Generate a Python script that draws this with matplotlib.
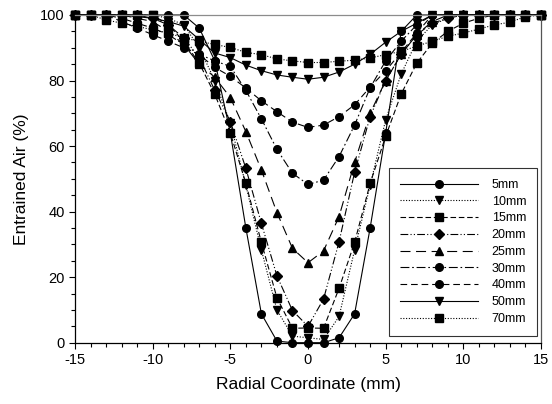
import matplotlib
matplotlib.use("Agg")
import matplotlib.pyplot as plt
from matplotlib.ticker import MultipleLocator

plt.rcParams['font.family'] = ['Liberation Sans', 'DejaVu Sans']
plt.rcParams['axes.unicode_minus'] = False

# radial positions (mm)
r = list(range(-15, 16))

# entrained air (%) for each depth
air_5 = [100, 100, 100, 100, 100, 100, 100, 100, 96, 86, 64, 35, 8.8, 0.5, 0, 0,
         0, 1.5, 8.8, 35, 64, 95, 100, 100, 100, 100, 100, 100, 100, 100, 100]
air_10 = [100, 100, 100, 100, 100, 100, 99, 97, 90, 80, 67, 48, 28.3, 10, 2, 1.5,
          1, 8, 28.3, 48, 68, 82, 92, 97, 99, 100, 100, 100, 100, 100, 100]
air_15 = [100, 100, 100, 100, 100, 100, 97, 92, 85.3, 75.8, 64, 48.6, 30.6, 13.7, 4.4, 4.5,
          4.4, 16.6, 30.6, 48.6, 63, 75.9, 85.3, 91.4, 95, 97.5, 99, 100, 100, 100, 100]
air_20 = [100, 100, 100, 100, 100, 99, 97, 93, 87, 77, 67.5, 53.2, 36.4, 20.4, 9.8, 5,
          13.3, 30.8, 52, 69, 80, 88, 94, 97.5, 99, 100, 100, 100, 100, 100, 100]
air_25 = [100, 100, 100, 100, 99, 98, 95, 91, 85, 81, 74.8, 64.4, 52.7, 39.7, 28.8, 24.4,
          28, 38.5, 55, 70, 80, 88, 94, 98, 100, 100, 100, 100, 100, 100, 100]
air_30 = [100, 100, 100, 99, 97.5, 96, 94, 91, 88, 86, 84.3, 77, 68.3, 59, 51.7, 48.3,
          49.6, 56.8, 66.4, 77.8, 86, 92, 97, 100, 100, 100, 100, 100, 100, 100, 100]
air_40 = [100, 100, 100, 98, 96, 94, 92, 90, 87.9, 84, 81.3, 77.7, 73.8, 70.5, 67.3, 65.7,
          66.4, 69, 72.6, 78, 83, 88.6, 94.5, 100, 100, 100, 100, 100, 100, 100, 100]
air_50 = [100, 100, 100, 100, 99.5, 99, 98, 96.6, 92.5, 88.4, 87, 84.7, 83, 81.7, 81, 80.4,
          81, 82.6, 85, 88, 91.7, 95, 97.5, 100, 100, 100, 100, 100, 100, 100, 100]
air_70 = [100, 100, 98.5, 97.5, 96.5, 95.5, 94.5, 93, 92, 91, 90.1, 88.6, 87.9, 86.6, 86, 85.5,
          85.5, 85.9, 86.2, 86.9, 87.9, 88.9, 90.5, 92, 93.5, 94.5, 95.7, 97, 97.8, 99.5, 100]

labels = ['5mm', '10mm', '15mm', '20mm', '25mm', '30mm', '40mm', '50mm', '70mm']
series = [air_5, air_10, air_15, air_20, air_25, air_30, air_40, air_50, air_70]
markers = ['o', 'v', 's', 'D', '^', 'o', 'o', 'v', 's']
dashes = [(None, None), (1, 1.5), (5, 2.5), (7, 2, 1, 2, 1, 2), (9, 5),
          (8, 2.5, 1.5, 2.5), (6, 3.5), (None, None), (1, 1.5)]

fig = plt.figure(figsize=(5.52, 4.04), dpi=100)
ax = fig.add_axes([75 / 552, 1 - 342.7 / 404, 466 / 552, 327.7 / 404])

for y, lab, m, d in zip(series, labels, markers, dashes):
    ms = 4.8 if m == 'D' else 5.5
    line, = ax.plot(r, y, color='black', lw=0.8, marker=m, ms=ms,
                    markerfacecolor='black', markeredgecolor='black',
                    label=lab, clip_on=False)
    if d[0] is not None:
        line.set_dashes(d)

ax.set_xlim(-15, 15)
ax.set_ylim(0, 100)
ax.xaxis.set_major_locator(MultipleLocator(5))
ax.xaxis.set_minor_locator(MultipleLocator(1))
ax.yaxis.set_major_locator(MultipleLocator(20))
ax.yaxis.set_minor_locator(MultipleLocator(5))
ax.tick_params(which='both', direction='out', width=0.8, labelsize=10.5)
ax.tick_params(which='major', length=4)
ax.tick_params(which='minor', length=3)

ax.spines['top'].set_color('#8c8c8c')
ax.spines['right'].set_color('#555555')
for s in ax.spines.values():
    s.set_linewidth(0.9)

ax.set_xlabel('Radial Coordinate (mm)', fontsize=12.5, labelpad=7)
ax.set_ylabel('Entrained Air (%)', fontsize=12.5, labelpad=8)

leg = ax.legend(loc='lower left', bbox_to_anchor=(0.674, 0.02), borderaxespad=0,
                fontsize=9, handlelength=6.2, labelspacing=0.38, handletextpad=1.1,
                frameon=True, fancybox=False, edgecolor='black', borderpad=0.9)
leg.get_frame().set_linewidth(0.8)

fig.savefig('out.png', dpi=100)
